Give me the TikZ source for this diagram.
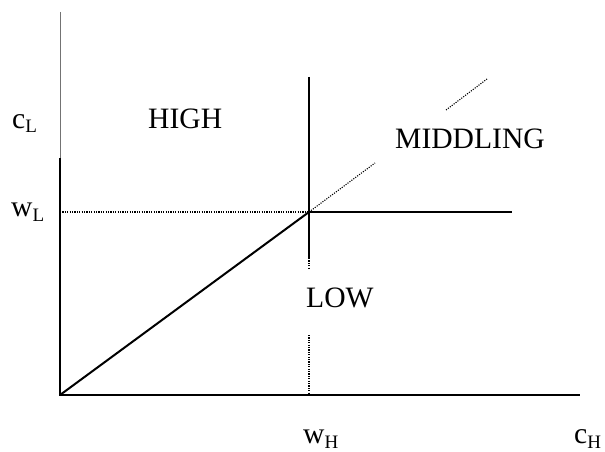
\documentclass[tikz,border=0pt]{standalone}
\usepackage{fontspec}
\setmainfont{Liberation Serif}
\newcommand{\bigtxt}{\fontsize{29.6}{34}\selectfont}
\newcommand{\subtxt}[1]{\raisebox{-5pt}{\fontsize{19}{21}\selectfont #1}}
\begin{document}
\begin{tikzpicture}[x=1pt,y=-1pt,
  lbl/.style={anchor=base west,inner sep=0pt,font=\bigtxt},
  solidline/.style={line width=2pt,line cap=butt},
  dotline/.style={line width=1.1pt,dash pattern=on 1.1pt off 1.3pt},
  thinaxis/.style={line width=1pt,draw=black!55}]
\useasboundingbox (0,0) rectangle (605,452);
% coordinates
\coordinate (O) at (60,395);
\coordinate (ytop) at (60,12);
\coordinate (ybreak) at (60,158);
\coordinate (xend) at (580,395);
\coordinate (P) at (309,212);
\coordinate (d1) at (375,163);
\coordinate (d2) at (446,110);
\coordinate (d3) at (487,79);
\coordinate (vtop) at (309,77);
\coordinate (vs) at (309,258);
\coordinate (vd) at (309,268);
\coordinate (vl) at (309,335);
\coordinate (vb) at (309,395);
\coordinate (hend) at (512,212);
\coordinate (wl) at (60,212);
% axes
\draw[thinaxis] (ytop) -- (ybreak);
\draw[solidline] (ybreak) -- (O) -- (xend);
% lines
\draw[solidline] (O) -- (P);
\draw[dotline] (P) -- (d1);
\draw[dotline] (d2) -- (d3);
\draw[solidline] (vtop) -- (vs);
\draw[dotline] (vs) -- (vd);
\draw[dotline] (vl) -- (vb);
\draw[solidline] (P) -- (hend);
\draw[dotline] (wl) -- (P);
% labels
\node[lbl] (cL) at (12,128) {c\subtxt{L}};
\node[lbl] (wL) at (11,216) {w\subtxt{L}};
\node[lbl] (high) at (148,128) {HIGH};
\node[lbl] (mid) at (395,148) {MIDDLING};
\node[lbl] (low) at (306,307) {LOW};
\node[lbl] (wH) at (303,443) {w\subtxt{H}};
\node[lbl] (cH) at (574,443) {c\subtxt{H}};
\end{tikzpicture}
\end{document}
